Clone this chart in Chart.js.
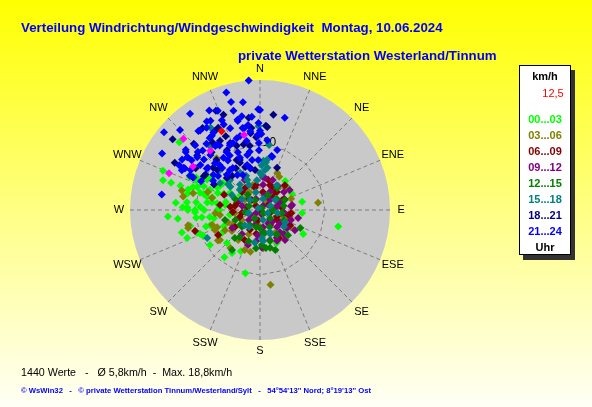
<!DOCTYPE html>
<html>
<head>
<meta charset="utf-8">
<title>Verteilung Windrichtung/Windgeschwindigkeit</title>
<script src="https://cdn.jsdelivr.net/npm/chart.js@4.4.1/dist/chart.umd.min.js"></script>
<style>
  html, body { margin: 0; padding: 0; }
  body {
    width: 592px; height: 407px; overflow: hidden; position: relative;
    background: linear-gradient(to bottom, #ffff00 0%, #ffff80 50%, #fffff6 100%);
    font-family: "Liberation Sans", Arial, sans-serif;
  }
  #rose { position: absolute; left: 0; top: 0; }
  .txt { position: absolute; white-space: pre; }
  .titel { color: #0000ff; font-weight: bold; font-size: 13.3px; line-height: 16px; }
  #legende {
    position: absolute; left: 519px; top: 65px; width: 52px; height: 190px;
    box-sizing: border-box; background: #fff; border: 1px solid #000;
    box-shadow: 4px 5px 0 #333;
  }
  #legende div {
    position: absolute; left: 0; width: 50px; text-align: center;
    font-size: 11px; font-weight: bold; line-height: 14px;
  }
  .fuss1 { font-size: 10.7px; line-height: 14px; color: #000; }
  .fuss2 { font-size: 7.7px; line-height: 10px; color: #0000ff; font-weight: bold; }
</style>
</head>
<body>
<canvas id="rose" width="592" height="407"></canvas>

<div class="txt titel" style="left:21px; top:20px;">Verteilung Windrichtung/Windgeschwindigkeit  Montag, 10.06.2024</div>
<div class="txt titel" style="left:238px; top:48px;">private Wetterstation Westerland/Tinnum</div>

<div id="legende"></div>

<div class="txt fuss1" style="left:21px; top:365px;">1440 Werte   -   Ø 5,8km/h  -  Max. 18,8km/h</div>
<div class="txt fuss2" style="left:21px; top:386px;">© WsWin32   -   © private Wetterstation Tinnum/Westerland/Sylt   -   54°54'13'' Nord; 8°19'13'' Ost</div>

<script>
// Himmelsrichtungen (im Uhrzeigersinn ab Nord)
const richtungen = ["N", "NNE", "NE", "ENE", "E", "ESE", "SE", "SSE", "S", "SSW", "SW", "WSW", "W", "WNW", "NW", "NNW"];
// Zeitraeume der Legende
const zeitraeume = ["00...03", "03...06", "06...09", "09...12", "12...15", "15...18", "18...21", "21...24"];
const farben = ["#00ff00", "#808000", "#800000", "#800080", "#008000", "#008080", "#000080", "#0000ff"];
const aktuellWert = "12,5";
const skalaMax = 20;   // km/h am Aussenkreis
const ringWert = 10;   // km/h am inneren Ring

// Messwerte: [Richtung in Grad, Geschwindigkeit in km/h]
const werte0003 = [[102,12.3],[119,7.6],[94,6.5],[63,5.5],[50,5.5],[119,3.9],[153,5.7],[193,10.0],[217,9.1],[213,7.9],
  [254,12.5],[266,14.2],[287,15.6],[287,14.3],[310,16.2],[276,11.3],[290,10.3],[272,11.9],[273,9.2],[262,7.8],
  [279,6.7],[284,8.4],[250,7.7],[239,6.8],[250,10.3],[270,10.0],[263,9.0],[300,9.4],[292,8.3],[292,7.0],
  [306,7.0],[300,5.3],[297,12.0],[249,12.0],[235,9.4],[246,9.6],[131,5.1],[41,5.9],[79,6.6],[225,7.2],
  [205,7.0],[295,11.9],[295,10.7],[302,9.6],[286,9.6],[278,8.2],[268,10.0],[272,11.2],[253,8.0],[270,6.6],
  [289,10.9],[286,11.5],[298,7.5],[285,7.6],[281,3.9],[307,3.8],[278,5.4],[261,4.7],[292,16.1],
  [297,11.0],[304,8.9],[287,12.8],[293,9.4],[301,7.2],[283,11.4],[286,9.0],[294,6.1],[275,13.0],[277,9.9],
  [279,7.5],[283,5.4],[270,11.1],[270,8.6],[270,6.2],[264,12.7],[263,9.9],[260,7.2],[257,11.0],[253,8.7],
  [246,6.1],[248,9.9]];
const werte0306 = [[83,9.0],[172,11.6],[112,4.5],[103,4.7],[95,4.9],[47,5.2],[30,5.9],[284,12.4],[280,12.0],[258,11.3],
  [284,10.6],[289,8.5],[284,7.6],[266,6.9],[263,6.2],[248,7.1],[240,6.2],[246,7.6],[233,7.7],[241,4.8],
  [249,5.3],[239,7.5],[256,11.4],[253,7.7],[234,8.0],[233,5.4],[201,6.6],[193,6.6],[216,5.7],[105,3.7],
  [144,5.3],[147,4.2],[304,2.8],[344,4.0],[107,1.6],[188,2.3],[27,1.7],[320,10.4],[218,7.4],[25,6.3],
  [329,3.2],[70,5.1],[263,3.9],[241,3.2],[119,5.4],[205,4.1],[175,5.9]];
const werte0609 = [[28,4.0],[45,2.8],[66,3.7],[85,3.4],[112,2.8],[191,1.6],[283,2.1],[276,4.6],[239,7.5],[252,10.5],
  [251,3.3],[266,4.2],[207,3.4],[173,3.6],[347,3.5],[326,4.1],[287,3.7],[277,6.2],[58,1.5],[100,4.4],
  [117,5.2],[146,2.8],[135,0.4],[40,3.6],[45,5.4],[15,4.8],[321,2.0],[207,5.2],[146,5.2],[293,6.0],
  [351,3.9],[22,4.1],[315,3.9],[9,2.8],[43,3.8],[315,2.4],[42,2.3],[65,4.1],[279,3.9],[315,0.9],
  [261,2.8],[107,1.6],[96,4.8],[202,1.7],[120,3.0],[236,4.6],[189,3.7]];
const werte0912 = [[9,5.0],[68,3.3],[95,3.6],[124,5.0],[149,5.0],[162,4.9],[158,0.8],[135,2.6],[199,5.7],[123,3.7],
  [148,2.4],[23,5.0],[5,5.1],[81,5.0],[120,6.2],[140,6.0],[185,3.9],[243,1.7],[297,3.4],[90,2.3],
  [18,2.4],[56,5.5],[102,6.0],[237,5.1],[198,2.4],[138,4.6],[177,5.8],[45,2.2],[333,5.2],[37,4.6],
  [7,3.9],[29,3.2],[53,4.6],[340,1.8],[283,2.8],[37,0.8],[77,2.7],[83,4.8],[233,0.8],[97,3.7],
  [228,2.3],[135,2.2],[108,5.0],[170,2.7],[135,3.7],[217,4.6],[135,5.2],[187,4.8],[151,5.4]];
const werte1215 = [[180,2.8],[222,5.8],[217,5.2],[168,3.6],[146,4.6],[212,1.5],[262,2.3],[45,0.4],[90,2.0],[38,4.3],
  [177,5.4],[171,5.9],[98,3.4],[214,2.8],[129,2.0],[132,5.8],[159,6.6],[254,5.6],[321,3.0],[68,4.1],
  [233,3.8],[215,7.5],[114,6.8],[333,1.7],[28,2.6],
  [294,4.2],[57,3.1],[290,1.8],[80,3.7],[135,0.7],[248,4.1],[113,4.0],[227,3.8],[193,2.7],[150,3.0],
  [173,3.7],[145,4.5],[200,5.1],[162,5.0],[186,5.9],[165,6.0]];
const werte1518 = [[359,12.9],[8,10.1],[8,7.8],[4,7.6],[0,5.7],[329,14.8],[7,7.4],[3,5.4],[315,8.7],[332,6.5],
  [337,5.0],[308,5.8],[242,9.2],[322,12.4],[315,2.2],[315,0.4],[156,3.7],[176,4.3],[189,5.1],[116,4.3],
  [315,4.4],[298,4.9],[56,2.8],[225,3.3],[111,1.3],[304,7.4],[315,6.5],[0,11.8],[354,4.6],[7,6.2],
  [10,6.6],[2,6.9],
  [336,4.2],[34,4.6],[347,2.8],[301,3.2],[15,1.8],[68,1.7],[255,1.8],[100,2.7],[163,1.6],[213,3.1],
  [125,4.5],[157,4.0],[174,4.8],[338,5.7],[309,6.3],[322,5.0]];
const werte1821 = [[336,16.7],[339,15.7],[353,14.3],[354,12.7],[4,13.0],[8,14.8],[22,7.0],[309,17.3],[299,15.0],[306,13.8],
  [357,11.2],[325,12.7],[336,11.3],[335,8.5],[341,7.0],[313,9.0],[296,11.5],[314,7.1],[330,14.0],[330,12.3],
  [311,12.8],[303,10.0],[317,7.4],[331,10.5],[340,10.5],[351,10.0],[337,7.9],[347,6.6],[325,15.4],[5,12.8],
  [353,11.9],[312,9.7],[353,6.2],
  [333,14.2],[335,12.5],[315,14.4],[346,10.4],[320,11.6],[319,10.2],[338,8.3],[303,11.8],[330,7.4],[301,10.1],
  [321,6.8],[299,8.1]];
const werte2124 = [[355,20.0],[344,18.8],[345,17.2],[351,16.8],[359,15.5],[324,18.3],[337,16.6],[345,15.8],[355,14.4],[15,14.7],
  [323,15.3],[329,13.9],[340,13.4],[346,14.1],[352,13.2],[349,14.7],[337,14.3],[329,15.9],[315,14.1],[306,13.8],
  [328,11.7],[338,11.1],[349,10.8],[358,11.5],[359,9.2],[358,7.7],[318,11.4],[331,9.6],[339,8.6],[318,9.3],
  [307,11.5],[327,7.7],[344,7.2],[307,9.0],[334,6.0],[317,7.4],[309,19.0],[315,17.4],[300,17.4],[303,14.3],
  [299,14.2],[299,13.2],[322,15.4],[331,15.7],[333,17.2],[279,15.3],[325,13.5],[325,12.0],[316,12.7],[310,12.6],
  [316,10.0],[325,9.8],[335,11.0],[342,11.6],[348,12.9],[353,12.2],[347,8.7],[323,7.7],[308,10.4],[327,6.4],
  [302,8.5],[296,11.4],[359,13.4],[1,11.7],[359,10.3],[6,10.8],[13,8.4],[297,13.5],[300,12.3],[0,15.4],
  [0,12.2],[12,8.5],[16,9.6],
  [337,15.0],[346,14.3],[327,15.1],[349,12.8],[309,14.7],[327,13.6],[345,11.8],[321,13.1],[327,12.0],[336,11.2],
  [308,14.5],[313,13.1],[330,10.3],[339,9.5],[350,9.1],[306,13.0],[312,11.6],[327,9.1],[351,7.8],[299,13.4],
  [309,10.3],[318,8.7],[347,6.6],[296,12.0],[309,8.3],[296,10.1]];
const werteMagenta = [[313,16.1],[303,12.3],[292,15.1],[348,11.8],[320,11.9]];
const werteAktuell = [[334,13.5]];

const serien = [werte0003, werte0306, werte0609, werte0912, werte1215, werte1518, werte1821, werte2124];

function zuXY(w) {
  const a = w[0] * Math.PI / 180;
  return { x: w[1] * Math.sin(a), y: w[1] * Math.cos(a) };
}

function punkte(werte, farbe, ordnung) {
  return {
    data: werte.map(zuXY),
    backgroundColor: farbe,
    borderColor: farbe,
    borderWidth: 0,
    pointStyle: "rectRot",
    pointRadius: 4,
    pointHoverRadius: 4,
    order: ordnung,
    clip: false
  };
}

const datasets = serien.map((s, i) => punkte(s, farben[i], serien.length - i));
datasets.push(punkte(werteMagenta, "#ff00ff", -1));
datasets.push(punkte(werteAktuell, "#ff0000", -2));

// Windrose im Hintergrund
const rosePlugin = {
  id: "rose",
  beforeDatasetsDraw(chart) {
    const { ctx, scales: { x, y } } = chart;
    const pt = (grad, v) => {
      const a = grad * Math.PI / 180;
      return [x.getPixelForValue(v * Math.sin(a)), y.getPixelForValue(v * Math.cos(a))];
    };
    const cx = x.getPixelForValue(0), cy = y.getPixelForValue(0);
    const R = x.getPixelForValue(skalaMax) - cx;

    ctx.save();
    ctx.fillStyle = "#c9c9c9";
    ctx.beginPath();
    ctx.arc(cx, cy, R, 0, 2 * Math.PI);
    ctx.fill();

    ctx.strokeStyle = "#7c7c7c";
    ctx.lineWidth = 1;
    ctx.setLineDash([4, 3]);
    richtungen.forEach((r, i) => {
      const [px, py] = pt(i * 22.5, skalaMax);
      ctx.beginPath();
      ctx.moveTo(cx, cy);
      ctx.lineTo(px, py);
      ctx.stroke();
    });
    ctx.beginPath();
    richtungen.forEach((r, i) => {
      const [px, py] = pt(i * 22.5, ringWert);
      if (i === 0) ctx.moveTo(px, py); else ctx.lineTo(px, py);
    });
    ctx.closePath();
    ctx.stroke();
    ctx.setLineDash([]);

    ctx.fillStyle = "#000";
    ctx.font = '11px "Liberation Sans", Arial, sans-serif';
    ctx.textAlign = "center";
    ctx.textBaseline = "middle";
    richtungen.forEach((r, i) => {
      const f = (i % 4 === 0) ? 1.085 : 1.105;
      const [px, py] = pt(i * 22.5, skalaMax * f);
      ctx.fillText(r, px, py);
    });
    const [lx, ly] = pt(8, ringWert * 1.04);
    ctx.font = '12px "Liberation Sans", Arial, sans-serif';
    ctx.fillText(String(ringWert), lx, ly);
    ctx.restore();
  }
};

new Chart(document.getElementById("rose"), {
  type: "scatter",
  data: { datasets },
  options: {
    responsive: false,
    animation: false,
    events: [],
    layout: { padding: { left: 130, right: 202, top: 80, bottom: 67 } },
    scales: {
      x: { display: false, min: -skalaMax, max: skalaMax },
      y: { display: false, min: -skalaMax, max: skalaMax }
    },
    plugins: { legend: { display: false }, tooltip: { enabled: false } }
  },
  plugins: [rosePlugin]
});

// Legende
const legende = document.getElementById("legende");
const zeilen = [["km/h", "#000", 3, "bold"], [aktuellWert, "#ff0000", 20, "normal"]];
zeitraeume.forEach((z, i) => zeilen.push([z, farben[i], 46 + i * 16, "bold"]));
zeilen.push(["Uhr", "#000", 174, "bold"]);
zeilen.forEach(([text, farbe, top, gewicht]) => {
  const d = document.createElement("div");
  d.textContent = text;
  d.style.color = farbe;
  d.style.top = top + "px";
  d.style.fontWeight = gewicht;
  if (text === aktuellWert) d.style.paddingLeft = "8px";
  legende.appendChild(d);
});
</script>
</body>
</html>
